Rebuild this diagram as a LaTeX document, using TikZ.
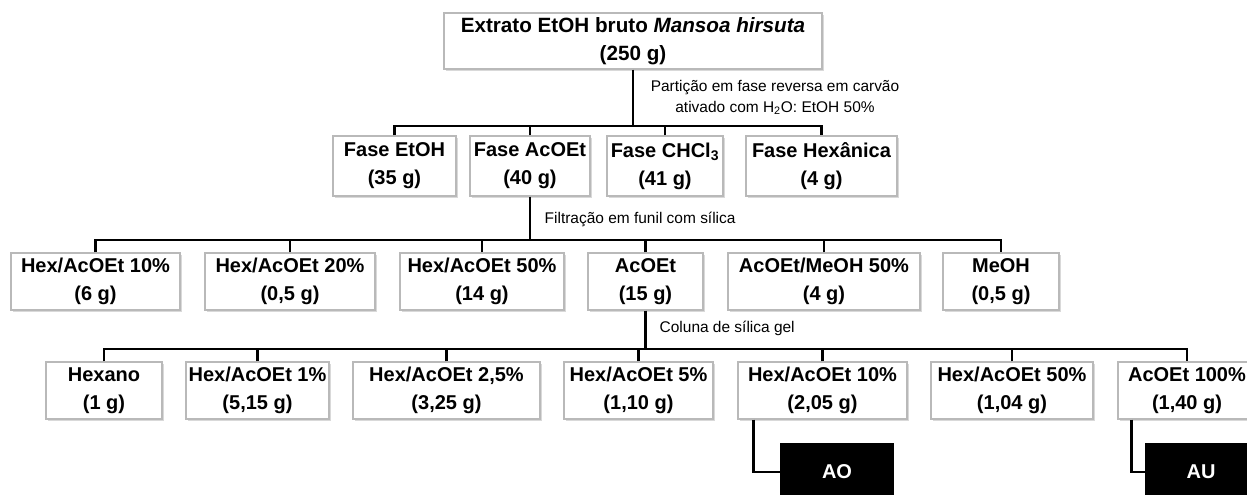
\documentclass[tikz,border=0pt]{standalone}
\usepackage{fontspec}
\setmainfont{Liberation Sans}
\usetikzlibrary{shadows}

\begin{document}
\begin{tikzpicture}[x=0.75pt,y=-0.75pt,
  fbox/.style={draw=gray!55, line width=0.8pt, fill=white, align=center,
    inner sep=0pt, minimum height=42.75pt,
    font=\bfseries\fontsize{15}{21}\selectfont,
    drop shadow={shadow xshift=1.2pt, shadow yshift=-1.5pt, opacity=0.3}},
  endbox/.style={fill=black, text=white, inner sep=0pt,
    minimum height=43.5pt, font=\bfseries\fontsize{15}{21}\selectfont},
  link/.style={line width=2.2pt, black},
  note/.style={font=\fontsize{11.6}{15.75}\selectfont, align=center}]
  \def\rowa{166}
  \def\rowb{281.5}
  \def\rowc{390.5}

  \useasboundingbox (0,0) rectangle (1247,495);
  \clip (0,0) rectangle (1247,495);

  \node[fbox, minimum width=378*0.75pt, minimum height=42pt,
    font=\bfseries\fontsize{15.5}{21}\selectfont] (top) at (633,41)
    {Extrato EtOH bruto \textit{Mansoa hirsuta}\\(250 g)};

  \foreach \n/\cx/\w/\lab/\m in {
    1/394.5/123/{Fase EtOH}/{35 g},
    2/530/120/{Fase AcOEt}/{40 g},
    3/665/116/{Fase CHCl\textsubscript{3}}/{41 g},
    4/821.5/151/{Fase Hexânica}/{4 g}%
  }{
    \node[fbox, minimum width=\w*0.75pt, minimum height=45pt] (f\n) at (\cx,\rowa) {\lab\\(\m)};
  }

  \foreach \n/\cx/\w/\lab/\m in {
    1/95.5/169/{Hex/AcOEt 10\%}/{6 g},
    2/290/170/{Hex/AcOEt 20\%}/{0,5 g},
    3/482/164/{Hex/AcOEt 50\%}/{14 g},
    4/645.5/115/{AcOEt}/{15 g},
    5/824/192/{AcOEt/MeOH 50\%}/{4 g},
    6/1001/116/{MeOH}/{0,5 g}%
  }{
    \node[fbox, minimum width=\w*0.75pt] (h\n) at (\cx,\rowb) {\lab\\(\m)};
  }

  \foreach \n/\cx/\w/\lab/\m in {
    1/104/116/{Hexano}/{1 g},
    2/257.5/143/{Hex/AcOEt 1\%}/{5,15 g},
    3/446.5/187/{Hex/AcOEt 2,5\%}/{3,25 g},
    4/638.5/149/{Hex/AcOEt 5\%}/{1,10 g},
    5/822.5/169/{Hex/AcOEt 10\%}/{2,05 g},
    6/1012/162/{Hex/AcOEt 50\%}/{1,04 g},
    7/1187/138/{AcOEt 100\%}/{1,40 g}%
  }{
    \node[fbox, minimum width=\w*0.75pt] (c\n) at (\cx,\rowc) {\lab\\(\m)};
  }

  \node[endbox, minimum width=114*0.75pt] (ao) at (837,472) {AO};
  \node[endbox, minimum width=112*0.75pt] (au) at (1201,472) {AU};

  \node[note] (part) at (775,97.5) {Partição em fase reversa em carvão\\ativado com H\textsubscript{2}O: EtOH 50\%};
  \node[note, anchor=west] (filt) at (540,219) {Filtração em funil com sílica};
  \node[note, anchor=west] (col) at (655,328) {Coluna de sílica gel};

  \coordinate (b1) at (633,126);
  \draw[link] (top) -- (b1);
  \draw[link] (f1.north) |- (b1) -| (f4.north);
  \foreach \n in {2,3} \draw[link] (f\n.north) -- (f\n.north |- b1);

  \coordinate (b2) at (530,240);
  \draw[link] (f2) -- (b2);
  \draw[link] (h1.north) |- (b2) -| (h6.north);
  \foreach \n in {2,...,5} \draw[link] (h\n.north) -- (h\n.north |- b2);

  \coordinate (b3) at (645.5,349);
  \draw[link] (h4) -- (b3);
  \draw[link] (c1.north) |- (b3) -| (c7.north);
  \foreach \n in {2,...,6} \draw[link] (c\n.north) -- (c\n.north |- b3);

  \draw[link] ([xshift=12pt]c5.south west) |- (ao);
  \draw[link] ([xshift=10.5pt]c7.south west) |- (au);
\end{tikzpicture}
\end{document}
